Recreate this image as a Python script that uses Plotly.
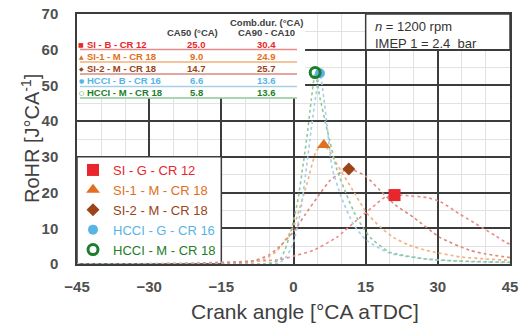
import plotly.graph_objects as go

# ---------------- data ----------------
series_names = ["SI - G - CR 12", "SI-1 - M - CR 18", "SI-2 - M - CR 18",
                "HCCI - G - CR 16", "HCCI - M - CR 18"]
table_labels = ["SI - B - CR 12", "SI-1 - M - CR 18", "SI-2 - M - CR 18",
                "HCCI - B - CR 16", "HCCI - M - CR 18"]
ca50 = ["25.0", "9.0", "14.7", "6.6", "5.8"]
comb_dur = ["30.4", "24.9", "25.7", "13.6", "13.6"]

x_si_g = [-45, -30, -20, -10, -5, -2.8, 0, 4.1, 9, 13.1, 17.3, 19, 21, 24, 27.7, 30.5, 34.5, 37, 39.4, 42, 44.3, 45]
y_si_g = [0, 0.1, 0.3, 0.7, 1.0, 1.2, 2.2, 3.8, 7.5, 12.2, 16.9, 18.7, 19.3, 19.1, 18.6, 17.5, 14.0, 12.0, 10.0, 7.9, 5.9, 5.6]

x_si1 = [-45, -20, -12, -9, -6, -3.4, 0, 2.8, 4.8, 6.3, 7.5, 9, 12.4, 15.2, 18, 20.8, 24, 27.7, 34.5, 40, 45]
y_si1 = [0, 0, 0.1, 0.4, 1.4, 3.7, 10.5, 22.5, 31.8, 33.3, 31.5, 28, 20.5, 14.3, 10.4, 7.4, 5.3, 3.8, 2.0, 1.4, 1.0]

x_si2 = [-45, -20, -12, -8, -5, -2.8, 0, 2.5, 5.5, 7.6, 10, 11.5, 13, 15, 18, 21, 25, 30.5, 36.7, 40, 45]
y_si2 = [0, 0, 0.3, 1.0, 2.6, 5.0, 9.0, 14.0, 19.7, 23.4, 25.8, 26.6, 26.0, 24.6, 20.6, 16.7, 13.0, 7.4, 3.8, 2.8, 1.8]

x_hcci_g = [-45, -6, -3, -1.5, 0, 1.5, 2.5, 3.4, 4.5, 5.5, 6.3, 7, 8, 10, 12.5, 15, 20, 28, 36, 45]
y_hcci_g = [0, 0, 0.3, 2.0, 6.0, 15.0, 25.0, 34.6, 46.0, 53.4, 46.5, 38.5, 27.0, 18.5, 11.0, 6.8, 3.0, 1.3, 0.7, 0.4]

x_hcci_m = [-45, -6, -4, -2.8, -1.8, -0.7, 0, 1, 1.8, 2.7, 3.7, 4.5, 5.5, 7, 9, 11, 13.1, 15.9, 20, 27.7, 35, 45]
y_hcci_m = [0, 0, 0.5, 1.3, 3.8, 8.5, 12.0, 18.5, 26.0, 34.6, 46.0, 53.6, 46.5, 37.5, 26.5, 19.5, 13.1, 7.5, 3.3, 1.4, 0.8, 0.5]

peak_x = [21, 6.3, 11.5, 5.5, 4.5]
peak_y = [19.3, 33.3, 26.6, 53.4, 53.6]

x_ticks = [-45, -30, -15, 0, 15, 30, 45]
y_ticks = [0, 10, 20, 30, 40, 50, 60, 70]

# ---------------- styles ----------------
marker_colors = ["#e8262b", "#e07020", "#9a4418", "#58b4e6", "#1e7d2a"]
line_colors = ["#ec8a8a", "#f2b07a", "#d88a80", "#a6cdea", "#8fc79a"]
symbols = ["square", "triangle-up", "diamond", "circle", "circle-open"]
msizes = [12, 12, 10, 10, 10]
table_syms = ["■", "▲", "◆", "●", "○"]

W, H = 522, 323
L, R, T, B = 77, 12, 14, 59
PW, PH = W - L - R, H - T - B


def pxx(v):
    return (v - L) / PW


def pxy(v):
    return (H - B - v) / PH


FONT = "Liberation Sans"
DARK = "#3c3c3c"

fig = go.Figure()

curves = [(x_si_g, y_si_g), (x_si1, y_si1), (x_si2, y_si2),
          (x_hcci_g, y_hcci_g), (x_hcci_m, y_hcci_m)]
for i, (xs, ys) in enumerate(curves):
    fig.add_trace(go.Scatter(
        x=xs, y=ys, mode="lines", showlegend=False, hoverinfo="skip",
        line=dict(color=line_colors[i], width=1.6, dash="dot",
                  shape="spline", smoothing=0.5)))

for i in range(5):
    mk = dict(color=marker_colors[i], size=msizes[i], symbol=symbols[i])
    if symbols[i] == "circle-open":
        mk["line"] = dict(color=marker_colors[i], width=3)
    fig.add_trace(go.Scatter(
        x=[peak_x[i]], y=[peak_y[i]], mode="markers",
        name="<span style='color:%s'>%s</span>" % (marker_colors[i], series_names[i]),
        marker=mk))

shapes = []
shapes.append(dict(type="rect", xref="x", yref="y", x0=-45, x1=2.4, y0=46.4, y1=70,
                   fillcolor="white", line=dict(width=0), layer="between"))
shapes.append(dict(type="rect", xref="x", yref="y", x0=15, x1=45, y0=60, y1=70,
                   fillcolor="white", line=dict(color=DARK, width=1.5), layer="between"))
shapes.append(dict(type="rect", xref="x", yref="y", x0=-45, x1=-15, y0=0, y1=30,
                   fillcolor="white", line=dict(color=DARK, width=1.5), layer="between"))

annotations = []


def ann(x, y, text, font, xanchor="center", **kw):
    annotations.append(dict(xref="paper", yref="paper", x=pxx(x), y=pxy(y),
                            xanchor=xanchor, yanchor="middle", text=text,
                            showarrow=False, font=font, **kw))


row_py = [44, 56.5, 68.5, 80.5, 92.5]
line_py = [49.5, 62, 74, 86.5, 98]
tf = dict(family=FONT, size=9.5, color="#404040")
ann(266, 22, "<b>Comb.dur. (°CA)</b>", tf)
ann(192, 33, "<b>CA50 (°CA)</b>", tf)
ann(266, 33, "<b>CA90 - CA10</b>", tf)
for i in range(5):
    f = dict(family=FONT, size=9.5, color=marker_colors[i])
    ann(85, row_py[i], "<b>%s</b>" % table_labels[i], f, xanchor="left")
    ann(81, row_py[i], table_syms[i],
        dict(family="DejaVu Sans", size=6, color=marker_colors[i]))
    ann(196, row_py[i], "<b>%s</b>" % ca50[i], f)
    ann(266, row_py[i], "<b>%s</b>" % comb_dur[i], f)
    shapes.append(dict(type="line", xref="paper", yref="paper",
                       x0=pxx(80), x1=pxx(297), y0=pxy(line_py[i]), y1=pxy(line_py[i]),
                       line=dict(color=line_colors[i], width=1.3)))

ann(373, 26, "<i>n</i> = 1200 rpm", dict(family=FONT, size=13, color="#333333"), xanchor="left")
ann(373, 43, "IMEP 1 = 2.4\u00a0 bar", dict(family=FONT, size=13, color="#333333"), xanchor="left")
ann(30, 139, "RoHR [J°CA<sup>-1</sup>]", dict(family=FONT, size=20, color="#404040"), textangle=-90)
ann(305, 311, "Crank angle [°CA aTDC]", dict(family=FONT, size=21, color="#404040"))

axis_common = dict(showline=True, mirror=True, linecolor=DARK, linewidth=1.5,
                   showgrid=True, gridcolor=DARK, gridwidth=1.5, zeroline=False,
                   automargin=False,
                   ticks="", tickfont=dict(family=FONT, size=15, color="#505050", weight="bold"))

fig.update_layout(
    width=W, height=H,
    margin=dict(l=L, r=R, t=T, b=B, autoexpand=False),
    paper_bgcolor="white", plot_bgcolor="white",
    xaxis=dict(range=[-45, 45], tickvals=x_ticks,
               minor=dict(dtick=5, showgrid=True, gridcolor="#e2e2e2", gridwidth=1),
               ticklabelstandoff=8, **axis_common),
    yaxis=dict(range=[0, 70], tickvals=y_ticks,
               minor=dict(dtick=5, showgrid=True, gridcolor="#e2e2e2", gridwidth=1),
               ticklabelstandoff=14, **axis_common),
    legend=dict(xref="container", yref="container", x=73 / W, y=1 - 155 / H,
                xanchor="left", yanchor="top",
                bgcolor="rgba(0,0,0,0)", font=dict(family=FONT, size=13),
                itemsizing="trace"),
    shapes=shapes, annotations=annotations,
)

fig.write_html("out.html", config={"displayModeBar": False},
               post_script="document.body.style.margin='0';document.body.style.overflow='hidden';")
